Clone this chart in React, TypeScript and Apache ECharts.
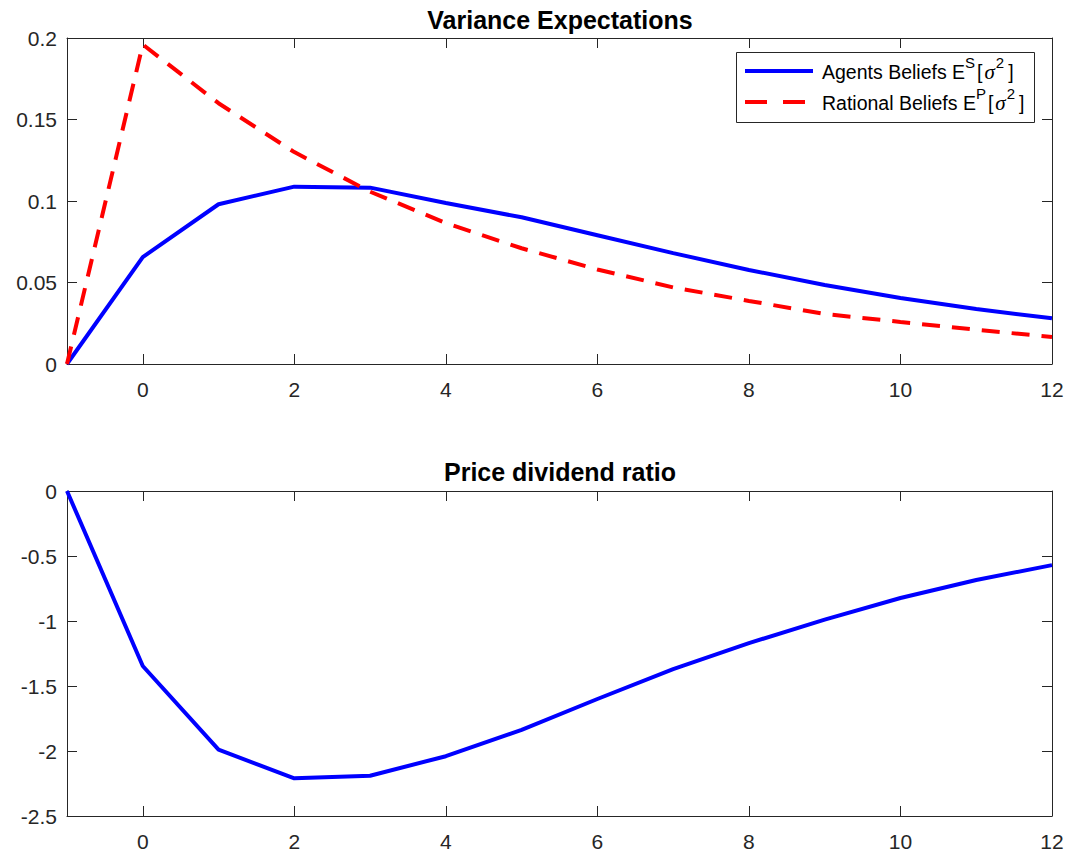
import React, { useEffect, useRef } from "react";
import * as echarts from "echarts";

const horizon = [-1, 0, 1, 2, 3, 4, 5, 6, 7, 8, 9, 10, 11, 12];
const agentsBeliefs = [0, 0.0656, 0.098, 0.1088, 0.1082, 0.0988, 0.09, 0.079, 0.068, 0.0577, 0.0485, 0.0405, 0.0337, 0.028];
const rationalBeliefs = [0, 0.196, 0.160, 0.130, 0.1057, 0.0865, 0.071, 0.058, 0.047, 0.0387, 0.0307, 0.0258, 0.021, 0.0166];
const priceDividend = [0, -1.346, -1.99, -2.21, -2.19, -2.04, -1.838, -1.6, -1.37, -1.17, -0.99, -0.823, -0.685, -0.57];
const xTicks = [0, 2, 4, 6, 8, 10, 12];
const titles = ["Variance Expectations", "Price dividend ratio"];
const legendNames = ["Agents Beliefs", "Rational Beliefs"];
const legendSups = ["S", "P"];

const FONT = "'Liberation Sans', Arial, Helvetica, sans-serif";
const AX = "#262626";

export default function App() {
  const ref = useRef<HTMLDivElement>(null);
  useEffect(() => {
    if (!ref.current) return;
    const chart = echarts.init(ref.current, null, { renderer: "svg" });
    const grids = [
      { left: 67, right: 15, top: 38, height: 326 },
      { left: 67, right: 15, top: 491, height: 325 },
    ];
    const tick = { show: true, inside: true, length: 10, lineStyle: { color: AX, width: 1 } };
    const xAxes: any[] = [];
    const yAxes: any[] = [];
    [0, 1].forEach((g) => {
      xAxes.push({
        type: "value", gridIndex: g, min: -1, max: 12, position: "bottom",
        axisLine: { show: true, onZero: false, lineStyle: { color: AX, width: 1 } },
        axisTick: { ...tick, customValues: xTicks },
        axisLabel: { customValues: xTicks, color: AX, fontSize: 21, fontFamily: FONT, margin: 15 },
        splitLine: { show: false },
      });
      xAxes.push({
        type: "value", gridIndex: g, min: -1, max: 12, position: "top",
        axisLine: { show: true, onZero: false, lineStyle: { color: AX, width: 1 } },
        axisTick: { ...tick, customValues: xTicks },
        axisLabel: { show: false },
        splitLine: { show: false },
      });
      const yr = g === 0 ? { min: 0, max: 0.2, interval: 0.05 } : { min: -2.5, max: 0, interval: 0.5 };
      yAxes.push({
        type: "value", gridIndex: g, ...yr, position: "left",
        axisLine: { show: true, onZero: false, lineStyle: { color: AX, width: 1 } },
        axisTick: tick,
        axisLabel: { color: AX, fontSize: 21, fontFamily: FONT, margin: 10 },
        splitLine: { show: false },
      });
      yAxes.push({
        type: "value", gridIndex: g, ...yr, position: "right",
        axisLine: { show: true, onZero: false, lineStyle: { color: AX, width: 1 } },
        axisTick: tick,
        axisLabel: { show: false },
        splitLine: { show: false },
      });
    });
    const pairs = (ys: number[]) => horizon.map((x, i) => [x, ys[i]]);
    const rich = {
      t: { fontSize: 19.5, fontFamily: FONT, color: "#000" },
      b: { fontSize: 19.5, fontFamily: FONT, color: "#000", padding: [0, 2, 0, 0] },
      sup: { fontSize: 15, fontFamily: FONT, color: "#000", verticalAlign: "top", padding: [0, 2, 19, 0] },
      sup2: { fontSize: 15, fontFamily: FONT, color: "#000", verticalAlign: "top", padding: [0, 4, 19, 1] },
      it: { fontSize: 21, fontFamily: "'Liberation Serif', 'DejaVu Serif', serif", fontStyle: "italic", color: "#000" },
    };
    const legendText = (i: number) => `{t|${legendNames[i]} E}{sup|${legendSups[i]}}{b|[}{it|σ}{sup2|2}{t|]}`;
    chart.setOption({
      animation: false,
      backgroundColor: "#fff",
      title: [
        { text: titles[0], left: 560, top: 7, padding: 0, textAlign: "center", textStyle: { fontFamily: FONT, fontSize: 25, fontWeight: "bold", color: "#000" } },
        { text: titles[1], left: 560, top: 459, padding: 0, textAlign: "center", textStyle: { fontFamily: FONT, fontSize: 25, fontWeight: "bold", color: "#000" } },
      ],
      grid: grids,
      xAxis: xAxes,
      yAxis: yAxes,
      graphic: [
        {
          type: "group", z: 100,
          children: [
            { type: "rect", shape: { x: 736.5, y: 52.5, width: 298, height: 70 }, style: { fill: "#fff", stroke: AX, lineWidth: 1 } },
            { type: "line", shape: { x1: 745, y1: 71, x2: 813, y2: 71 }, style: { stroke: "#0000ff", lineWidth: 4 } },
            { type: "line", shape: { x1: 745, y1: 102, x2: 813, y2: 102 }, style: { stroke: "#ff0000", lineWidth: 4, lineDash: [22, 16] } },
            { type: "text", x: 822, y: 71.5, style: { text: legendText(0), rich, verticalAlign: "middle", align: "left" } },
            { type: "text", x: 822, y: 102.5, style: { text: legendText(1), rich, verticalAlign: "middle", align: "left" } },
          ],
        },
      ],
      series: [
        { name: legendNames[0], type: "line", xAxisIndex: 0, yAxisIndex: 0, data: pairs(agentsBeliefs), symbol: "none", lineStyle: { color: "#0000ff", width: 4 }, itemStyle: { color: "#0000ff" } },
        { name: legendNames[1], type: "line", xAxisIndex: 0, yAxisIndex: 0, data: pairs(rationalBeliefs), symbol: "none", lineStyle: { color: "#ff0000", width: 4, type: [18, 12] }, itemStyle: { color: "#ff0000" } },
        { name: "Price dividend ratio", type: "line", xAxisIndex: 2, yAxisIndex: 2, data: pairs(priceDividend), symbol: "none", lineStyle: { color: "#0000ff", width: 4 } },
      ],
    });
    return () => chart.dispose();
  }, []);
  return <div ref={ref} style={{ width: 1067, height: 852, position: "absolute", left: 0, top: 0, background: "#fff" }} />;
}
